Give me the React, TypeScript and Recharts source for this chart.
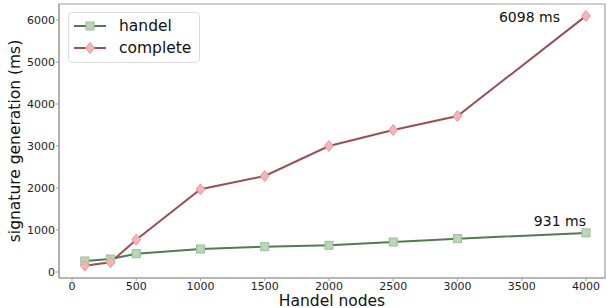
import React from 'react';
import {
  LineChart, Line, XAxis, YAxis, LabelList, ReferenceArea,
} from 'recharts';

const nodes = [100, 300, 500, 1000, 1500, 2000, 2500, 3000, 4000];
const handelMs = [262, 310, 436, 548, 603, 635, 714, 794, 931];
const completeMs = [150, 230, 770, 1970, 2285, 3000, 3380, 3714, 6098];
const xTicks = [0, 500, 1000, 1500, 2000, 2500, 3000, 3500, 4000];
const yTicks = [0, 1000, 2000, 3000, 4000, 5000, 6000];
const xDomain = [-101, 4148];
const yDomain = [-143, 6381];

const FONT = '"DejaVu Sans", sans-serif';
const GREEN = '#537a54';
const GREEN_FILL = '#b9d7b4';
const RED = '#9a5052';
const RED_FILL = '#f5b4b5';
const SPINE = '#a0a0a0';

const chartData = nodes.map((n, i) => ({ n, handel: handelMs[i], complete: completeMs[i] }));

const SquareDot = (props: any) => {
  const { cx, cy } = props;
  if (cx == null || cy == null) return null;
  return <rect x={cx - 4} y={cy - 4} width={8} height={8} fill={GREEN_FILL} stroke="#98bf94" strokeWidth={1} />;
};

const DiamondDot = (props: any) => {
  const { cx, cy } = props;
  if (cx == null || cy == null) return null;
  const r = 5.5;
  return (
    <path
      d={`M${cx},${cy - r}L${cx + r * 0.8},${cy}L${cx},${cy + r}L${cx - r * 0.8},${cy}Z`}
      fill={RED_FILL}
      stroke="#e49a9c"
      strokeWidth={1}
    />
  );
};

const lastLabel = (dx: number, dy: number) => (props: any) => {
  const { x, y, value, index } = props;
  if (index !== nodes.length - 1) return null;
  return (
    <text x={x + dx} y={y + dy} textAnchor="end" fontSize={14} fontFamily={FONT} fill="#111">
      {`${value} ms`}
    </text>
  );
};

const LegendBox = () => (
  <div
    style={{
      position: 'absolute',
      left: 68,
      top: 12,
      border: '1px solid #dcdcdc',
      borderRadius: 4,
      background: 'rgba(255,255,255,0.85)',
      padding: '2px 8px 3px 4px',
      fontFamily: FONT,
      fontSize: 15.5,
      color: '#111',
      lineHeight: '22px',
    }}
  >
    {[
      { name: 'handel', color: GREEN, dot: 'square' },
      { name: 'complete', color: RED, dot: 'diamond' },
    ].map((e) => (
      <div key={e.name} style={{ display: 'flex', alignItems: 'center' }}>
        <svg width={34} height={14} style={{ marginRight: 12 }}>
          <line x1={1} y1={7} x2={33} y2={7} stroke={e.color} strokeWidth={2} />
          {e.dot === 'square' ? (
            <rect x={13} y={3} width={8} height={8} fill={GREEN_FILL} stroke="#98bf94" />
          ) : (
            <path d="M17,1.5L21.4,7L17,12.5L12.6,7Z" fill={RED_FILL} stroke="#e49a9c" />
          )}
        </svg>
        <span>{e.name}</span>
      </div>
    ))}
  </div>
);

const App: React.FC = () => {
  return (
    <div style={{ position: 'fixed', left: 0, top: 0, width: 607, height: 308, background: '#fff' }}>
      <LineChart width={607} height={308} data={chartData} margin={{ top: 4, right: 2, left: 0, bottom: 0 }}>
        <XAxis
          dataKey="n"
          type="number"
          domain={xDomain}
          ticks={xTicks}
          allowDataOverflow
          height={30}
          tickSize={3}
          tickLine={{ stroke: SPINE }}
          axisLine={{ stroke: SPINE, strokeWidth: 1.2 }}
          tick={{ fontSize: 11, fontFamily: FONT, fill: '#222' }}
          tickMargin={1}
          label={{ value: 'Handel nodes', position: 'insideBottom', offset: 2, fontSize: 15.5, fontFamily: FONT, fill: '#111' }}
        />
        <YAxis
          type="number"
          domain={yDomain}
          ticks={yTicks}
          allowDataOverflow
          width={59}
          tickSize={3}
          tickLine={{ stroke: SPINE }}
          axisLine={{ stroke: SPINE, strokeWidth: 1.2 }}
          tick={{ fontSize: 11, fontFamily: FONT, fill: '#222' }}
          tickMargin={1}
          label={{ value: 'signature generation (ms)', angle: -90, position: 'insideLeft', offset: 14, fontSize: 15.5, fontFamily: FONT, fill: '#111', style: { textAnchor: 'middle' } }}
        />
        <ReferenceArea
          x1={xDomain[0]}
          x2={xDomain[1]}
          y1={yDomain[0]}
          y2={yDomain[1]}
          fill="none"
          stroke={SPINE}
          strokeWidth={1.2}
          ifOverflow="visible"
        />
        <Line
          dataKey="handel"
          stroke={GREEN}
          strokeWidth={2}
          dot={<SquareDot />}
          activeDot={false}
          isAnimationActive={false}
        >
          <LabelList dataKey="handel" content={lastLabel(0, -7)} />
        </Line>
        <Line
          dataKey="complete"
          stroke={RED}
          strokeWidth={2}
          dot={<DiamondDot />}
          activeDot={false}
          isAnimationActive={false}
        >
          <LabelList dataKey="complete" content={lastLabel(-26, 6)} />
        </Line>
      </LineChart>
      <LegendBox />
    </div>
  );
};

export default App;
